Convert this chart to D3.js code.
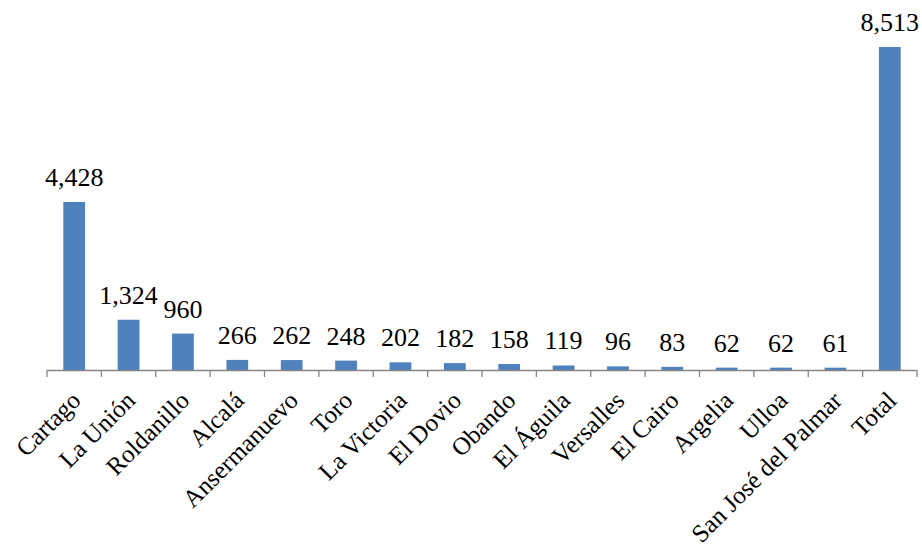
<!DOCTYPE html>
<html>
<head>
<meta charset="utf-8">
<script src="https://cdn.jsdelivr.net/npm/d3@7"></script>
<style>
  body { margin: 0; background: #fff; }
</style>
</head>
<body>
<svg id="chart" width="922" height="554"></svg>
<script>
// data
var municipios = ["Cartago", "La Unión", "Roldanillo", "Alcalá", "Ansermanuevo", "Toro", "La Victoria",
  "El Dovio", "Obando", "El Águila", "Versalles", "El Cairo", "Argelia", "Ulloa", "San José del Palmar", "Total"];
var valores = [4428, 1324, 960, 266, 262, 248, 202, 182, 158, 119, 96, 83, 62, 62, 61, 8513];

var serif = "'Times New Roman', 'Liberation Serif', Tinos, serif";
var svg = d3.select("#chart");
var fmt = d3.format(",");

var x = d3.scaleBand().domain(municipios).range([47, 917]).paddingInner(0.6).paddingOuter(0.3);
var y = d3.scaleLinear().domain([0, 8513]).range([370, 47]);

// bars
svg.selectAll("rect.bar").data(valores).enter().append("rect")
    .attr("class", "bar")
    .attr("x", (d, i) => x(municipios[i]))
    .attr("y", d => y(d))
    .attr("width", x.bandwidth())
    .attr("height", d => y(0) - y(d))
    .attr("fill", "#4F81BD");

// value labels
svg.selectAll("text.val").data(valores).enter().append("text")
    .attr("class", "val")
    .attr("x", (d, i) => x(municipios[i]) + x.bandwidth() / 2)
    .attr("y", d => y(d) - 16)
    .attr("text-anchor", "middle")
    .attr("font-family", serif)
    .attr("font-size", "26px")
    .attr("fill", "#000")
    .text(d => fmt(d));

// axis line + tick marks between categories
var step = x.step();
svg.append("line")
    .attr("x1", 47).attr("x2", 917)
    .attr("y1", 370.5).attr("y2", 370.5)
    .attr("stroke", "#868686").attr("stroke-width", 1.3);

svg.selectAll("line.tick").data(d3.range(municipios.length + 1)).enter().append("line")
    .attr("class", "tick")
    .attr("x1", i => 47 + i * step).attr("x2", i => 47 + i * step)
    .attr("y1", 370).attr("y2", 377)
    .attr("stroke", "#868686").attr("stroke-width", 1.3);

// category labels, rotated
svg.selectAll("text.cat").data(municipios).enter().append("text")
    .attr("class", "cat")
    .attr("transform", d => "translate(" + (x(d) + x.bandwidth() / 2 + 8) + ",402) rotate(-45)")
    .attr("text-anchor", "end")
    .attr("font-family", serif)
    .attr("font-size", "25px")
    .attr("fill", "#000")
    .text(d => d);
</script>
</body>
</html>
